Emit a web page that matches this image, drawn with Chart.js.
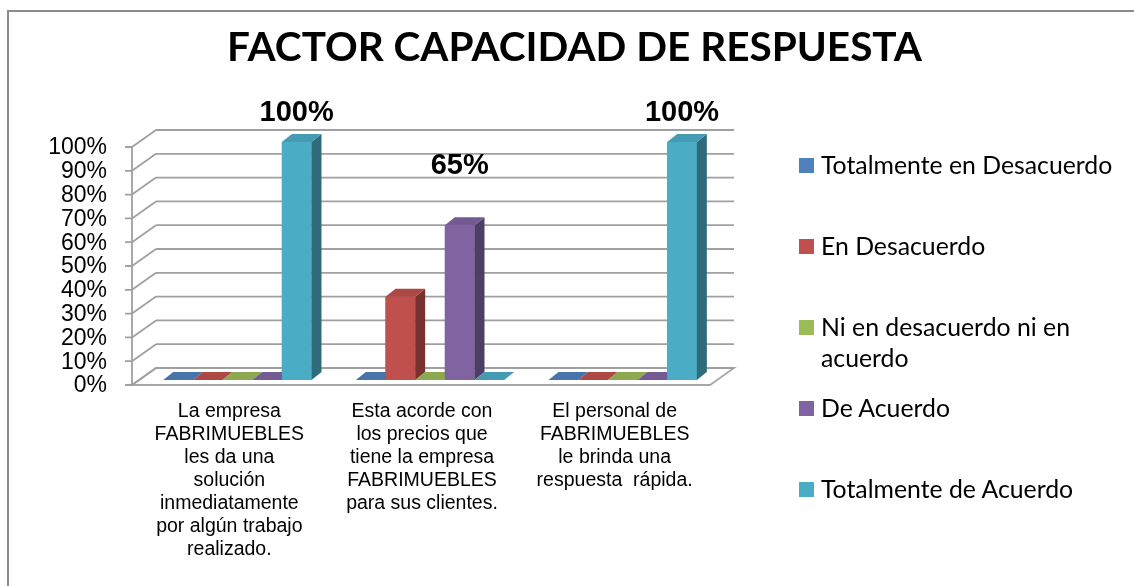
<!DOCTYPE html>
<html lang="es">
<head>
    <meta charset="UTF-8">
    <title>Factor Capacidad de Respuesta</title>
    <script src="https://cdn.jsdelivr.net/npm/chart.js"></script>
    <style>
        html, body { margin: 0; padding: 0; background: #fff; overflow: hidden; }
        #page { position: relative; width: 1134px; height: 586px; overflow: hidden; }
        #frame { position: absolute; left: 7px; top: 10px; width: 1300px; height: 800px; border: 2px solid #8c8c8c; }
        #title { position: absolute; left: 0; top: 21px; width: 1149px; text-align: center; font-family: Lato, sans-serif; font-weight: 700; font-size: 40.5px; line-height: 50px; color: #000; }
        #chartBox { position: absolute; left: 0; top: 0; width: 1134px; height: 586px; }
        #legend { position: absolute; left: 799px; top: 149px; width: 325px; font-family: Lato, sans-serif; font-size: 24.8px; color: #000; }
        .item { position: relative; height: 81px; line-height: 31px; padding-left: 22px; }
        .item span.box { position: absolute; left: 0; top: 9px; width: 15px; height: 15px; }
    </style>
</head>
<body>
<div id="page">
    <div id="frame"></div>
    <div id="chartBox"><canvas id="chart" width="1134" height="586"></canvas></div>
    <div id="title">FACTOR CAPACIDAD DE RESPUESTA</div>
    <div id="legend"></div>
</div>

<script>
    // categorias (etiquetas del eje x, ya partidas en lineas)
    const categories = [
        ['La empresa', 'FABRIMUEBLES', 'les da una', 'solución', 'inmediatamente', 'por algún trabajo', 'realizado.'],
        ['Esta acorde con', 'los precios que', 'tiene la empresa', 'FABRIMUEBLES', 'para sus clientes.'],
        ['El personal de', 'FABRIMUEBLES', 'le brinda una', 'respuesta  rápida.']
    ];

    const seriesNames = ['Totalmente en Desacuerdo', 'En Desacuerdo', 'Ni en desacuerdo ni en acuerdo', 'De Acuerdo', 'Totalmente de Acuerdo'];
    const seriesColors = ['#4F81BD', '#C0504D', '#9BBB59', '#8064A2', '#4BACC6'];

    // valores en %
    const totDesacuerdo = [0, 0, 0];
    const enDesacuerdo = [0, 35, 0];
    const niNi = [0, 0, 0];
    const deAcuerdo = [0, 65, 0];
    const totAcuerdo = [100, 0, 100];

    const yTicks = [0, 10, 20, 30, 40, 50, 60, 70, 80, 90, 100];

    // etiqueta de valor: que serie se rotula en cada categoria y cuanto sube
    const labelSeries = [4, 3, 4];
    const labelLift = [29, 59, 29];

    const seriesValues = [totDesacuerdo, enDesacuerdo, niNi, deAcuerdo, totAcuerdo];

    // leyenda en html
    document.getElementById('legend').innerHTML = seriesNames.map((name, i) => `
        <div class="item"><span class="box" style="background:${seriesColors[i]}"></span>${name}</div>
    `).join('');

    function shade(hex, f) {
        const n = parseInt(hex.slice(1), 16);
        const r = Math.round(((n >> 16) & 255) * f);
        const g = Math.round(((n >> 8) & 255) * f);
        const b = Math.round((n & 255) * f);
        return `rgb(${r},${g},${b})`;
    }

    const depth = { dx: 10, dy: -8 };

    // pared del fondo, suelo y eje frontal
    const wall3d = {
        id: 'wall3d',
        beforeDatasetsDraw(chart) {
            const { ctx, chartArea: a, scales: { y } } = chart;
            const fx = a.left - 9, fy = 5;
            const bx = a.left + 15, by = -12, bRight = a.right + 15;
            const y0 = y.getPixelForValue(0);
            ctx.save();
            ctx.beginPath();
            ctx.moveTo(fx, y0 + fy);
            ctx.lineTo(a.right - 9, y0 + fy);
            ctx.lineTo(bRight, y0 + by);
            ctx.lineTo(bx, y0 + by);
            ctx.closePath();
            ctx.fillStyle = '#ffffff';
            ctx.fill();
            ctx.strokeStyle = '#a8a8a8';
            ctx.lineWidth = 1.8;
            ctx.stroke();

            ctx.strokeStyle = '#a0a0a0';
            yTicks.forEach(v => {
                const py = y.getPixelForValue(v);
                ctx.beginPath();
                ctx.moveTo(bx, py + by);
                ctx.lineTo(bRight, py + by);
                ctx.moveTo(fx, py + fy);
                ctx.lineTo(bx, py + by);
                ctx.moveTo(fx - 7, py + fy);
                ctx.lineTo(fx, py + fy);
                ctx.stroke();
            });
            ctx.beginPath();
            ctx.moveTo(fx, y.getPixelForValue(0) + fy);
            ctx.lineTo(fx, y.getPixelForValue(100) + fy);
            ctx.stroke();
            ctx.restore();
        },
        afterDatasetsDraw(chart) {
            const { ctx } = chart;
            ctx.save();
            categories.forEach((c, j) => {
                seriesValues.forEach((s, i) => {
                    const el = chart.getDatasetMeta(i).data[j];
                    const { x, y, base, width } = el.getProps(['x', 'y', 'base', 'width'], true);
                    const l = x - width / 2, r = x + width / 2;
                    const col = seriesColors[i];
                    if (base - y > 0.5) {
                        ctx.fillStyle = col;
                        ctx.fillRect(l, y, width, base - y);
                        ctx.beginPath();
                        ctx.moveTo(r, y);
                        ctx.lineTo(r + depth.dx, y + depth.dy);
                        ctx.lineTo(r + depth.dx, base + depth.dy);
                        ctx.lineTo(r, base);
                        ctx.closePath();
                        ctx.fillStyle = shade(col, 0.62);
                        ctx.fill();
                    }
                    ctx.beginPath();
                    ctx.moveTo(l, y);
                    ctx.lineTo(l + depth.dx, y + depth.dy);
                    ctx.lineTo(r + depth.dx, y + depth.dy);
                    ctx.lineTo(r, y);
                    ctx.closePath();
                    ctx.fillStyle = shade(col, 0.9);
                    ctx.fill();
                });
            });

            // etiquetas de valor
            ctx.fillStyle = '#000';
            ctx.font = 'bold 29px "Liberation Sans", Arial, sans-serif';
            ctx.textAlign = 'center';
            ctx.textBaseline = 'middle';
            labelSeries.forEach((i, j) => {
                const el = chart.getDatasetMeta(i).data[j];
                ctx.fillText(seriesValues[i][j] + '%', el.x, el.y - labelLift[j]);
            });
            ctx.restore();
        }
    };

    const ctx = document.getElementById('chart').getContext('2d');
    new Chart(ctx, {
        type: 'bar',
        data: {
            labels: categories,
            datasets: seriesNames.map((name, i) => ({
                label: name,
                data: seriesValues[i],
                backgroundColor: seriesColors[i],
                borderWidth: 0,
                categoryPercentage: 0.77,
                barPercentage: 1.0
            }))
        },
        options: {
            responsive: false,
            animation: false,
            layout: { padding: { top: 142, right: 415, bottom: 0, left: 0 } },
            plugins: {
                legend: { display: false },
                title: { display: false },
                tooltip: { enabled: false }
            },
            scales: {
                x: {
                    grid: { display: false },
                    border: { display: false },
                    ticks: {
                        maxRotation: 0,
                        autoSkip: false,
                        padding: 12,
                        labelOffset: -8,
                        color: '#000',
                        font: { family: '"Liberation Sans", Arial, sans-serif', size: 19.5, lineHeight: '23px' }
                    },
                    afterFit(scale) { scale.height = 206; }
                },
                y: {
                    min: 0,
                    max: 100,
                    grid: { display: false, drawTicks: false },
                    border: { display: false },
                    ticks: {
                        stepSize: 10,
                        autoSkip: false,
                        padding: 34,
                        labelOffset: 6,
                        color: '#000',
                        font: { family: '"Liberation Sans", Arial, sans-serif', size: 23 },
                        callback: v => v + '%'
                    },
                    afterFit(scale) { scale.width = 141; }
                }
            }
        },
        plugins: [wall3d]
    });
</script>
</body>
</html>
